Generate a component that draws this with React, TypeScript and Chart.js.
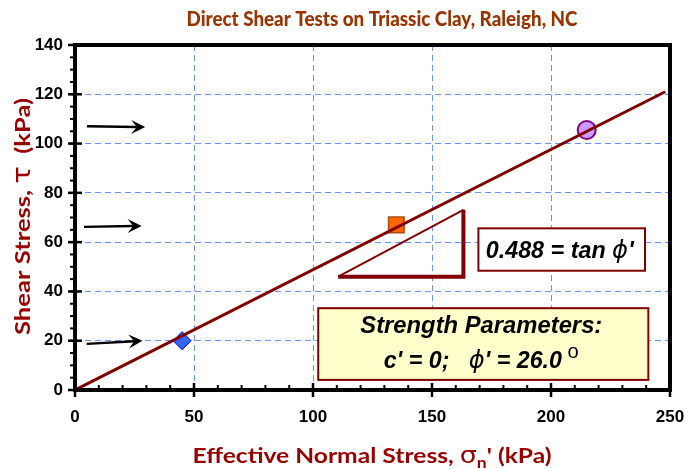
import React, { useEffect, useRef } from "react";
import { Chart, registerables } from "chart.js";

Chart.register(...registerables);

// Direct shear test results (kPa)
const normalStress = [45, 135, 215];
const shearStress = [20, 67, 105.5];

// Mohr-Coulomb failure envelope: tau = c' + sigma' * tan(phi')
const cohesion = 0;
const tanPhi = 0.488;
const phiDeg = "26.0";
const envelopeNormal = [0, 248];

// Axis ticks
const xTickValues = [0, 50, 100, 150, 200, 250];
const yTickValues = [0, 20, 40, 60, 80, 100, 120, 140];

const titleText = "Direct Shear Tests on Triassic Clay, Raleigh, NC";

// Annotation geometry, in axis units
const arrowRows = [
  { x0: 5, y0: 107, x1: 29.5, y1: 106.7 },
  { x0: 3.8, y0: 66.2, x1: 28, y1: 66.6 },
  { x0: 4.9, y0: 18.7, x1: 28.4, y1: 20 },
];
const slopeTriangle = { x0: 110.6, x1: 163.2, yBase: 46, yTop: 73.1 };
const slopeBox = { x0: 169.5, x1: 239.5, y0: 65.6, y1: 48.4 };
const paramBox = { x0: 102.2, x1: 240.9, y0: 33.2, y1: 4.1 };

const MAROON = "#800000";
const GRID = "#6b93ff";
const SANS = '"Liberation Sans", Arial, sans-serif';
const LABEL_FONT = 'Lato, "DejaVu Sans", sans-serif';
const GREEK_FONT = '"DejaVu Sans", sans-serif';

type Run = { text: string; font: string; dy?: number };

function drawRuns(
  ctx: CanvasRenderingContext2D,
  runs: Run[],
  cx: number,
  baseY: number,
  width: number | null,
  rotate = false
) {
  ctx.save();
  let total = 0;
  const widths = runs.map((r) => {
    ctx.font = r.font;
    const w = ctx.measureText(r.text).width;
    total += w;
    return w;
  });
  ctx.translate(cx, baseY);
  if (rotate) ctx.rotate(-Math.PI / 2);
  const sx = width ? width / total : 1;
  ctx.scale(sx, 1);
  ctx.textAlign = "left";
  ctx.textBaseline = "alphabetic";
  let x = -total / 2;
  runs.forEach((r, i) => {
    ctx.font = r.font;
    ctx.fillText(r.text, x, r.dy || 0);
    x += widths[i];
  });
  ctx.restore();
}

const decorations = {
  id: "shearDecorations",
  afterDraw(chart: any) {
    const ctx: CanvasRenderingContext2D = chart.ctx;
    const xs = chart.scales.x;
    const ys = chart.scales.y;
    const X = (v: number) => xs.getPixelForValue(v);
    const Y = (v: number) => ys.getPixelForValue(v);
    const { left, right, top, bottom } = chart.chartArea;

    ctx.save();
    ctx.strokeStyle = "#000";
    ctx.lineCap = "butt";

    // minor and major ticks
    ctx.lineWidth = 2;
    for (let v = 0; v <= 250; v += 10) {
      const px = X(v);
      ctx.beginPath();
      ctx.moveTo(px, bottom - 5);
      ctx.lineTo(px, bottom);
      ctx.stroke();
    }
    for (let v = 0; v <= 140; v += 5) {
      const py = Y(v);
      ctx.beginPath();
      ctx.moveTo(left - 5, py);
      ctx.lineTo(left, py);
      ctx.stroke();
    }
    ctx.lineWidth = 2.5;
    xTickValues.forEach((v) => {
      const px = X(v);
      ctx.beginPath();
      ctx.moveTo(px, bottom - 7);
      ctx.lineTo(px, bottom + 7);
      ctx.stroke();
    });
    yTickValues.forEach((v) => {
      const py = Y(v);
      ctx.beginPath();
      ctx.moveTo(left - 7, py);
      ctx.lineTo(left + 7, py);
      ctx.stroke();
    });

    // plot frame
    ctx.lineWidth = 4;
    ctx.strokeRect(left, top, right - left, bottom - top);

    // arrows
    arrowRows.forEach((a) => {
      const x0 = X(a.x0), y0 = Y(a.y0), x1 = X(a.x1), y1 = Y(a.y1);
      const ang = Math.atan2(y1 - y0, x1 - x0);
      const L = 14, W = 7;
      ctx.lineWidth = 2.4;
      ctx.strokeStyle = "#000";
      ctx.beginPath();
      ctx.moveTo(x0, y0);
      ctx.lineTo(x1 - Math.cos(ang) * L * 0.6, y1 - Math.sin(ang) * L * 0.6);
      ctx.stroke();
      ctx.save();
      ctx.translate(x1, y1);
      ctx.rotate(ang);
      ctx.fillStyle = "#000";
      ctx.beginPath();
      ctx.moveTo(0, 0);
      ctx.lineTo(-L, -W);
      ctx.lineTo(-L * 0.6, 0);
      ctx.lineTo(-L, W);
      ctx.closePath();
      ctx.fill();
      ctx.restore();
    });

    // slope triangle
    const t = slopeTriangle;
    ctx.strokeStyle = MAROON;
    ctx.lineWidth = 2;
    ctx.beginPath();
    ctx.moveTo(X(t.x0), Y(t.yBase));
    ctx.lineTo(X(t.x1), Y(t.yTop));
    ctx.stroke();
    ctx.lineWidth = 4;
    ctx.lineJoin = "miter";
    ctx.beginPath();
    ctx.moveTo(X(t.x0), Y(t.yBase));
    ctx.lineTo(X(t.x1), Y(t.yBase));
    ctx.lineTo(X(t.x1), Y(t.yTop));
    ctx.stroke();

    // slope label box
    const b1 = { l: X(slopeBox.x0), r: X(slopeBox.x1), t: Y(slopeBox.y0), b: Y(slopeBox.y1) };
    ctx.fillStyle = "#fff";
    ctx.fillRect(b1.l, b1.t, b1.r - b1.l, b1.b - b1.t);
    ctx.lineWidth = 2;
    ctx.strokeStyle = MAROON;
    ctx.strokeRect(b1.l, b1.t, b1.r - b1.l, b1.b - b1.t);
    ctx.fillStyle = "#000";
    const bi = `italic bold 23px ${SANS}`;
    const phiFont = `italic 24px ${GREEK_FONT}`;
    drawRuns(
      ctx,
      [
        { text: `${tanPhi.toFixed(3)} = tan `, font: bi },
        { text: "\u03D5", font: phiFont },
        { text: "'", font: bi },
      ],
      (b1.l + b1.r) / 2 - 2,
      b1.t + 30,
      148
    );

    // strength parameters box
    const b2 = { l: X(paramBox.x0), r: X(paramBox.x1), t: Y(paramBox.y0), b: Y(paramBox.y1) };
    ctx.fillStyle = "#ffffcc";
    ctx.fillRect(b2.l, b2.t, b2.r - b2.l, b2.b - b2.t);
    ctx.strokeStyle = MAROON;
    ctx.lineWidth = 2;
    ctx.strokeRect(b2.l, b2.t, b2.r - b2.l, b2.b - b2.t);
    ctx.fillStyle = "#000";
    const cx2 = (b2.l + b2.r) / 2 - 2;
    drawRuns(ctx, [{ text: "Strength Parameters:", font: bi }], cx2, b2.t + 25, 242);
    drawRuns(
      ctx,
      [
        { text: `c' = ${cohesion};   `, font: bi },
        { text: "\u03D5", font: phiFont },
        { text: `' = ${phiDeg}`, font: bi },
        { text: " o", font: `20px ${SANS}`, dy: -10 },
      ],
      cx2,
      b2.t + 60,
      195
    );

    // title
    ctx.fillStyle = "#993300";
    drawRuns(ctx, [{ text: titleText, font: `900 20px ${LABEL_FONT}` }], 382, 26, 391);

    // axis titles
    ctx.fillStyle = "#990000";
    const lf = `bold 21px ${LABEL_FONT}`;
    drawRuns(
      ctx,
      [
        { text: "Effective Normal Stress, ", font: lf },
        { text: "\u03C3", font: `23px ${GREEK_FONT}` },
        { text: "n", font: `bold 15px ${LABEL_FONT}`, dy: 5 },
        { text: "' (kPa)", font: lf },
      ],
      372,
      463,
      359
    );
    drawRuns(
      ctx,
      [
        { text: "Shear Stress, ", font: lf },
        { text: "\u03C4", font: `24px ${GREEK_FONT}` },
        { text: "  (kPa)", font: lf },
      ],
      29.5,
      216.5,
      237,
      true
    );

    ctx.restore();
  },
};

export default function App() {
  const canvasRef = useRef<HTMLCanvasElement | null>(null);

  useEffect(() => {
    const canvas = canvasRef.current;
    if (!canvas) return;
    const tickFont = { family: SANS, weight: "bold" as const, size: 17 };
    const chart = new Chart(canvas, {
      type: "scatter",
      data: {
        datasets: [
          {
            label: "Failure envelope",
            data: envelopeNormal.map((s) => ({ x: s, y: cohesion + tanPhi * s })),
            showLine: true,
            borderColor: MAROON,
            borderWidth: 3,
            pointRadius: 0,
            fill: false,
          },
          {
            label: "Test 1",
            data: [{ x: normalStress[0], y: shearStress[0] }],
            pointStyle: "rectRot",
            pointRadius: 9,
            backgroundColor: "#3366ff",
            borderColor: "#000090",
            borderWidth: 1,
          },
          {
            label: "Test 2",
            data: [{ x: normalStress[1], y: shearStress[1] }],
            pointStyle: "rect",
            pointRadius: 11,
            backgroundColor: "#ff6600",
            borderColor: "#b04a10",
            borderWidth: 1.5,
          },
          {
            label: "Test 3",
            data: [{ x: normalStress[2], y: shearStress[2] }],
            pointStyle: "circle",
            pointRadius: 9,
            backgroundColor: "#cc99ff",
            borderColor: "#800080",
            borderWidth: 2,
          },
        ],
      },
      options: {
        animation: false,
        responsive: false,
        maintainAspectRatio: false,
        events: [],
        layout: { padding: { top: 45, right: 25, left: 0, bottom: 0 } },
        plugins: {
          legend: { display: false },
          tooltip: { enabled: false },
          title: { display: false },
        },
        scales: {
          x: {
            type: "linear",
            min: 0,
            max: 250,
            afterBuildTicks: (scale: any) => {
              scale.ticks = xTickValues.map((v) => ({ value: v }));
            },
            afterFit: (scale: any) => {
              scale.height = 79;
              scale.paddingLeft = 0;
              scale.paddingRight = 0;
            },
            ticks: { color: "#000", font: tickFont, padding: 17, maxRotation: 0, autoSkip: false },
            grid: { color: GRID, lineWidth: 1, drawTicks: false },
            border: { display: false, dash: [6, 4] },
          },
          y: {
            type: "linear",
            min: 0,
            max: 140,
            afterBuildTicks: (scale: any) => {
              scale.ticks = yTickValues.map((v) => ({ value: v }));
            },
            afterFit: (scale: any) => {
              scale.width = 75;
              scale.paddingTop = 0;
              scale.paddingBottom = 0;
            },
            ticks: { color: "#000", font: tickFont, padding: 12, autoSkip: false },
            grid: { color: GRID, lineWidth: 1, drawTicks: false },
            border: { display: false, dash: [6, 4] },
          },
        },
      },
      plugins: [decorations],
    } as any);
    return () => chart.destroy();
  }, []);

  return (
    <div style={{ position: "absolute", left: 0, top: 0, width: 695, height: 469, background: "#fff" }}>
      <canvas ref={canvasRef} width={695} height={469} style={{ display: "block" }} />
    </div>
  );
}
